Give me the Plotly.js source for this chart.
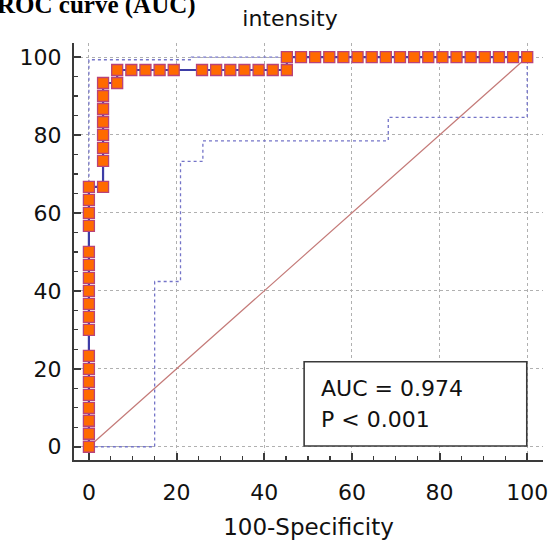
<!DOCTYPE html>
<html><head><meta charset="utf-8">
<script src="https://cdn.plot.ly/plotly-3.0.1.min.js"></script>
<style>html,body{margin:0;padding:0;background:#fff}#chart{width:554px;height:543px}</style>
</head><body><div id="chart"></div>
<script>
// ROC curve points (100-Specificity, Sensitivity)
const rocFpr = [0,0,0,0,0,0,0,0,0,0,0,0,0,0,0,0,0,0,0,
  3.23,3.23,3.23,3.23,3.23,3.23,3.23,3.23,
  6.45,6.45,9.68,12.9,16.13,19.35,25.81,29.03,32.26,35.48,38.71,41.94,45.16,
  45.16,48.39,51.61,54.84,58.06,61.29,64.52,67.74,70.97,74.19,77.42,80.65,83.87,87.1,90.32,93.55,96.77,100];
const rocTpr = [0,3.33,6.67,10,13.33,16.67,20,23.33,30,33.33,36.67,40,43.33,46.67,50,56.67,60,63.33,66.67,
  66.67,73.33,76.67,80,83.33,86.67,90,93.33,
  93.33,96.67,96.67,96.67,96.67,96.67,96.67,96.67,96.67,96.67,96.67,96.67,96.67,
  100,100,100,100,100,100,100,100,100,100,100,100,100,100,100,100,100,100];
// confidence bounds
const upperX = [0,0,23.4,23.4,100];
const upperY = [0,99.3,99.3,100,100];
const lowerX = [0,15,15,20.9,20.9,26,26,68.3,68.3,100,100];
const lowerY = [0,0,42.4,42.4,73.2,73.2,78.5,78.5,84.5,84.5,100];
// reference diagonal
const diagX = [0,100];
const diagY = [0,100];
const tickVals = [0,20,40,60,80,100];
const chartTitle = 'intensity';
const xTitle = '100-Specificity';
const statLines = ['AUC = 0.974','P < 0.001'];
const headerText = 'ROC curve (AUC)';

const FONT = 'DejaVu Sans, Arial, sans-serif';
const traces = [
  {x: diagX, y: diagY, mode:'lines', line:{color:'#c47a78', width:1.2}, hoverinfo:'skip'},
  {x: upperX, y: upperY, mode:'lines', line:{color:'#7474c8', width:1.3, dash:'dot'}, hoverinfo:'skip'},
  {x: lowerX, y: lowerY, mode:'lines', line:{color:'#7474c8', width:1.3, dash:'dot'}, hoverinfo:'skip'},
  {x: rocFpr, y: rocTpr, mode:'lines+markers', line:{color:'#3d3da6', width:2.2},
   marker:{symbol:'square', size:11, color:'#ff6a00', line:{color:'#b8437a', width:1.3}}}
];
const axisCommon = {
  range:[-3.4,103.6], tickvals: tickVals, showline:true, linecolor:'#3a3a3a', linewidth:2,
  ticks:'inside', ticklen:7, tickwidth:2, tickcolor:'#3a3a3a',
  minor:{ticks:'inside', ticklen:4, tickwidth:1.3, tickcolor:'#3a3a3a', dtick:5, tick0:0, showgrid:false},
  showgrid:true, gridcolor:'#b0b0b0', griddash:'dot', gridwidth:1, zeroline:false,
  tickfont:{family:FONT, size:22, color:'#111'}, fixedrange:true
};
const layout = {
  width:554, height:543, margin:{l:74, r:11, t:43, b:83},
  paper_bgcolor:'#fff', plot_bgcolor:'#fff', showlegend:false,
  title:{text: chartTitle, font:{family:FONT, size:22, color:'#111'}, x:0.5235, xanchor:'center', y:0.967, yanchor:'middle'},
  xaxis: Object.assign({}, axisCommon, {ticklabelstandoff:12,
     title:{text:xTitle, font:{family:FONT, size:23, color:'#111'}, standoff:14}}),
  yaxis: Object.assign({}, axisCommon, {ticklabelstandoff:6}),
  shapes:[{type:'rect', xref:'x', yref:'y', x0:49.1, x1:99.9, y0:0.2, y1:21.8,
    fillcolor:'#fff', line:{color:'#3a3a3a', width:1.6}, layer:'above'}],
  annotations:[
    {xref:'x', yref:'y', x:52.6, y:15.0, xanchor:'left', yanchor:'middle', showarrow:false,
     text:statLines[0], font:{family:FONT, size:22, color:'#111'}},
    {xref:'x', yref:'y', x:52.6, y:6.9, xanchor:'left', yanchor:'middle', showarrow:false,
     text:statLines[1], font:{family:FONT, size:22, color:'#111'}},
    {xref:'paper', yref:'paper', x:-0.168, y:1.053, xanchor:'left', yanchor:'bottom', showarrow:false,
     text:'<b>'+headerText+'</b>', font:{family:'Liberation Serif, Times New Roman, serif', size:25, color:'#000'}}
  ]
};
Plotly.newPlot('chart', traces, layout, {staticPlot:true, displayModeBar:false});
</script></body></html>
